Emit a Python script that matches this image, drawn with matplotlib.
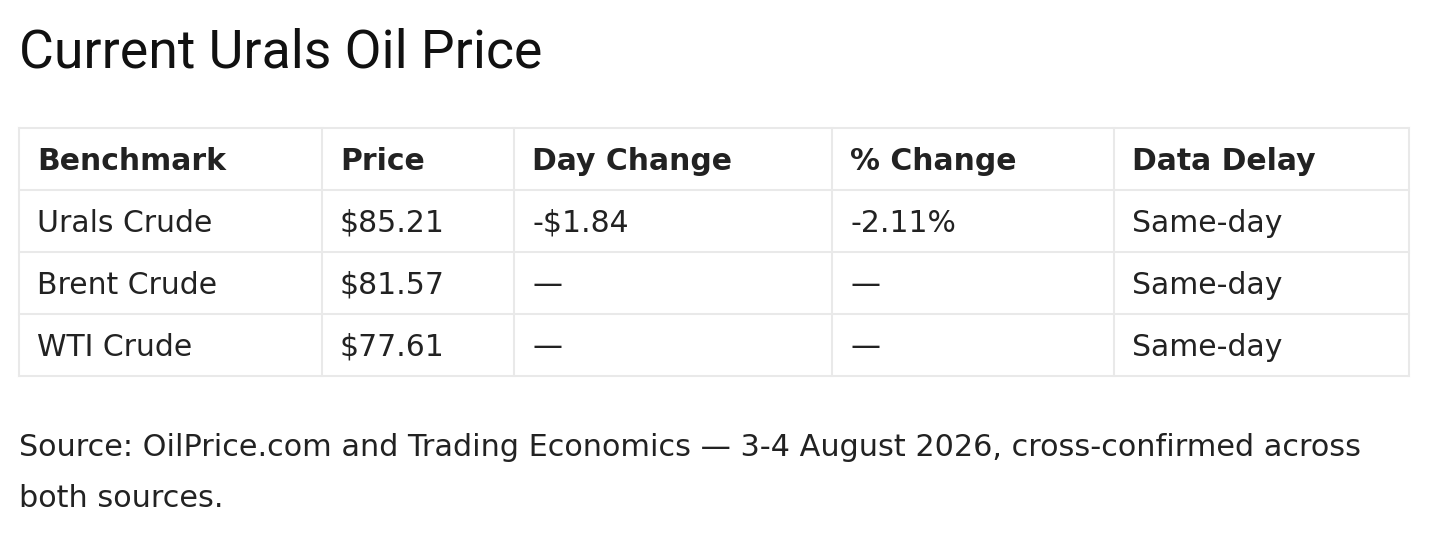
import matplotlib
matplotlib.use("Agg")
import matplotlib.pyplot as plt

title = "Current Urals Oil Price"
headers = ["Benchmark", "Price", "Day Change", "% Change", "Data Delay"]
benchmarks = ["Urals Crude", "Brent Crude", "WTI Crude"]
prices = [85.21, 81.57, 77.61]
day_changes = ["-$1.84", "\u2014", "\u2014"]
pct_changes = ["-2.11%", "\u2014", "\u2014"]
delays = ["Same-day", "Same-day", "Same-day"]
source_lines = ["Source: OilPrice.com and Trading Economics \u2014 3-4 August 2026, cross-confirmed across",
                "both sources."]

W, H = 1436, 536
fig = plt.figure(figsize=(W / 100, H / 100), dpi=100)
ax = fig.add_axes([0, 0, 1, 1])
ax.set_xlim(0, W)
ax.set_ylim(H, 0)
ax.axis("off")

txt = "#222222"
border = "#e9e9e9"
col_x = [19, 322, 514, 832, 1114, 1409]
row_y = [128, 190, 252, 314, 376]
pad = 18

ax.text(19, 67, title, fontsize=38.6, family="Roboto", color="#111111", va="baseline", ha="left")

# grid
for x in col_x:
    ax.plot([x, x], [row_y[0], row_y[-1]], color=border, lw=1.5, solid_capstyle="projecting")
for y in row_y:
    ax.plot([col_x[0], col_x[-1]], [y, y], color=border, lw=1.5, solid_capstyle="projecting")

rows = [[b, f"${p:.2f}", d, c, dl] for b, p, d, c, dl in zip(benchmarks, prices, day_changes, pct_changes, delays)]

for j, h in enumerate(headers):
    ax.text(col_x[j] + pad, (row_y[0] + row_y[1]) / 2 - 1, h, fontsize=21.5, family="DejaVu Sans",
            weight="bold", color=txt, va="center_baseline", ha="left")
for i, r in enumerate(rows):
    yc = (row_y[i + 1] + row_y[i + 2]) / 2 - 1
    for j, v in enumerate(r):
        ax.text(col_x[j] + pad, yc, v, fontsize=21.5, family="DejaVu Sans",
                color=txt, va="center_baseline", ha="left")

for k, line in enumerate(source_lines):
    ax.text(19, 456 + 51 * k, line, fontsize=21.8, family="DejaVu Sans", color=txt,
            va="baseline", ha="left")

fig.savefig("out.png", dpi=100, facecolor="white")
